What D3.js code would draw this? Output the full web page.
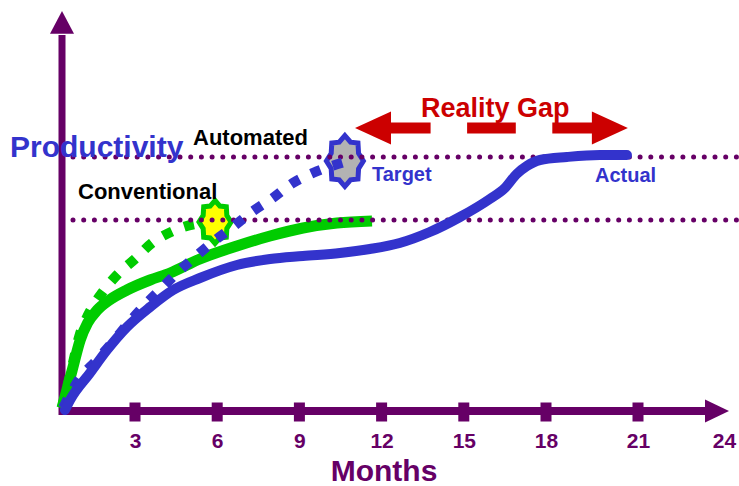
<!DOCTYPE html>
<html>
<head>
<meta charset="utf-8">
<script src="https://cdn.jsdelivr.net/npm/d3@7/dist/d3.min.js"></script>
<style>
  html, body { margin: 0; padding: 0; background: #fff; }
  svg { display: block; font-family: "Liberation Sans", Arial, sans-serif; }
</style>
</head>
<body>
<svg id="chart" width="739" height="486"></svg>
<script>
// Month tick labels along the time axis
const monthTicks = [3, 6, 9, 12, 15, 18, 21, 24];
const tickMarks = [3, 6, 9, 12, 15, 18, 21];

// Productivity levels the two approaches aim for
const automatedTarget = 63.5;
const conventionalTarget = 47.75;

// [month, productivity] curves
const conventionalActual = [
  [0, 0.75], [0.41, 10], [0.75, 17.75], [1.05, 22], [1.45, 25.25], [1.95, 27.75],
  [2.67, 30.25], [3.55, 32.75], [4.28, 34.5], [5.37, 38], [6.72, 41.25],
  [7.93, 43.75], [9.13, 45.75], [10.37, 47], [11.65, 47.5]
];
const conventionalPlan = [
  [0, 0.75], [0.45, 12], [0.7, 18.5], [1.07, 24], [1.64, 29.5], [2.26, 34],
  [3, 38], [3.62, 42], [4.39, 45], [5.19, 46.75], [5.92, 47.25]
];
const automatedPlan = [
  [0.04, 0.75], [0.74, 8.25], [1.36, 12.25], [2.05, 17], [2.67, 21.5], [3.29, 26],
  [3.91, 30.25], [4.53, 34.5], [5.19, 38.5], [5.84, 42.25], [6.57, 46],
  [7.26, 49.75], [8.03, 53.25], [8.76, 57], [9.49, 59.5], [10.66, 62.25]
];
const automatedActual = [
  [0.12, 0.25], [0.33, 2.75], [1.15, 9.5], [1.85, 15.25], [2.67, 21], [3.55, 26],
  [4.39, 30.25], [5.37, 33.25], [6.72, 36.5], [7.93, 38], [9.13, 38.75],
  [10.48, 39.5], [11.57, 40.5], [12.66, 42], [13.76, 44.75], [14.86, 48.5],
  [15.95, 53], [16.5, 55.75], [16.93, 59.25], [17.3, 61.25], [17.78, 62.75],
  [18.68, 63.5], [19.76, 64], [20.64, 64]
];

// Milestone stars: [month, productivity]
const conventionalStar = [5.92, 47.25];
const automatedStar = [10.66, 62.5];

// Span of the "Reality Gap" arrow: [startMonth, endMonth, productivity]
const gapSpan = [11.03, 20.67, 70.75];

const PURPLE = "#660066", BLUE = "#3333cc", GREEN = "#00cc00", RED = "#cc0000";

const svg = d3.select("#chart");

const x = d3.scaleLinear()
  .domain([0, 3, 18, 21, 24])
  .range([62, 135, 546, 638, 724]);
const y = d3.scaleLinear().domain([0, 100]).range([411, 11]);

const x0 = x(0), y0 = y(0);

// ---- axes ----
const axisG = svg.append("g");
// vertical axis with arrowhead
axisG.append("line")
  .attr("x1", x0).attr("x2", x0).attr("y1", y0 + 4).attr("y2", y(94))
  .attr("stroke", PURPLE).attr("stroke-width", 7);
axisG.append("path")
  .attr("d", `M${x0 - 12},${y(94.3)} L${x0},${y(100)} L${x0 + 12},${y(94.3)} Z`)
  .attr("fill", PURPLE);
// horizontal axis with arrowhead
axisG.append("line")
  .attr("x1", x0 - 1).attr("x2", 707).attr("y1", y0).attr("y2", y0)
  .attr("stroke", PURPLE).attr("stroke-width", 8);
axisG.append("path")
  .attr("d", `M705,${y0 - 11.5} L729,${y0} L705,${y0 + 11.5} Z`)
  .attr("fill", PURPLE);
// square tick marks
axisG.selectAll("rect.tick-mark").data(tickMarks).join("rect")
  .attr("class", "tick-mark")
  .attr("x", d => x(d) - 5.5).attr("y", y0 - 8.5)
  .attr("width", 11).attr("height", 19)
  .attr("fill", PURPLE);

// tick labels through the d3 axis
const xAxis = d3.axisBottom(x).tickValues(monthTicks).tickSize(0).tickPadding(22)
  .tickFormat(d3.format("d"));
const xAxisG = svg.append("g").attr("transform", `translate(0,${y0})`).call(xAxis);
xAxisG.select(".domain").remove();
xAxisG.selectAll("text")
  .attr("fill", PURPLE)
  .attr("font-size", 21).attr("font-weight", "bold")
  .attr("font-family", "'Liberation Sans', Arial, sans-serif");

svg.append("text")
  .attr("x", 384).attr("y", 481)
  .attr("text-anchor", "middle")
  .attr("font-size", 30).attr("font-weight", "bold")
  .attr("fill", PURPLE)
  .text("Months");

// ---- curves ----
const line = d3.line()
  .x(d => x(d[0])).y(d => y(d[1]))
  .curve(d3.curveMonotoneX);

svg.append("path").datum(conventionalActual)
  .attr("d", line).attr("fill", "none")
  .attr("stroke", GREEN).attr("stroke-width", 11)
  .attr("stroke-linejoin", "round");

svg.append("path").datum(conventionalPlan)
  .attr("d", line).attr("fill", "none")
  .attr("stroke", GREEN).attr("stroke-width", 10)
  .attr("stroke-dasharray", "10 13");

// 8-point star path centred on the origin
function starPath(rx, ry, ratio) {
  const pts = [];
  for (let i = 0; i < 16; i++) {
    const a = -Math.PI / 2 + i * Math.PI / 8;
    const k = i % 2 === 0 ? 1 : ratio;
    pts.push([Math.cos(a) * rx * k, Math.sin(a) * ry * k]);
  }
  return "M" + pts.map(p => p.join(",")).join("L") + "Z";
}

svg.append("path")
  .attr("transform", `translate(${x(conventionalStar[0])},${y(conventionalStar[1])})`)
  .attr("d", starPath(16, 21.5, 0.8))
  .attr("fill", "#ffff00").attr("stroke", GREEN).attr("stroke-width", 5)
  .attr("stroke-linejoin", "miter");

svg.append("path")
  .attr("transform", `translate(${x(automatedStar[0])},${y(automatedStar[1])})`)
  .attr("d", starPath(18.5, 25.5, 0.8))
  .attr("fill", "#b3b3b3").attr("stroke", BLUE).attr("stroke-width", 5)
  .attr("stroke-linejoin", "miter");

// dotted target levels
svg.selectAll("line.level").data([automatedTarget, conventionalTarget]).join("line")
  .attr("class", "level")
  .attr("x1", 73).attr("x2", 739)
  .attr("y1", d => y(d)).attr("y2", d => y(d))
  .attr("stroke", PURPLE).attr("stroke-width", 5)
  .attr("stroke-linecap", "round")
  .attr("stroke-dasharray", "0 10.7");

svg.append("path").datum(automatedPlan)
  .attr("d", line).attr("fill", "none")
  .attr("stroke", BLUE).attr("stroke-width", 10)
  .attr("stroke-dasharray", "10 13");

svg.append("path").datum(automatedActual)
  .attr("d", line).attr("fill", "none")
  .attr("stroke", BLUE).attr("stroke-width", 10)
  .attr("stroke-linecap", "round").attr("stroke-linejoin", "round");

// ---- reality gap arrow ----
const gx1 = x(gapSpan[0]), gx2 = x(gapSpan[1]), gy = y(gapSpan[2]);
const headLen = 36, headHalf = 16.5, shaft = 11;
const gapG = svg.append("g").attr("fill", RED);
gapG.append("path")
  .attr("d", `M${gx1},${gy} L${gx1 + headLen},${gy - headHalf} L${gx1 + headLen},${gy + headHalf} Z`);
gapG.append("path")
  .attr("d", `M${gx2},${gy} L${gx2 - headLen},${gy - headHalf} L${gx2 - headLen},${gy + headHalf} Z`);
// dashed shaft: three bars between the heads
const shaftStart = gx1 + headLen - 1, shaftEnd = gx2 - headLen + 1;
const shaftLen = shaftEnd - shaftStart;
const bars = [[0, 0.2], [0.38, 0.62], [0.8, 1]];
gapG.selectAll("rect").data(bars).join("rect")
  .attr("x", d => shaftStart + d[0] * shaftLen)
  .attr("width", d => (d[1] - d[0]) * shaftLen)
  .attr("y", gy - shaft / 2).attr("height", shaft);

svg.append("text")
  .attr("x", 421).attr("y", 117)
  .attr("font-size", 27).attr("font-weight", "bold")
  .attr("fill", RED)
  .text("Reality Gap");

// ---- labels ----
svg.append("text")
  .attr("x", 10).attr("y", 157)
  .attr("font-size", 30).attr("font-weight", "bold")
  .attr("fill", BLUE)
  .text("Productivity");

svg.append("text")
  .attr("x", 193).attr("y", 145)
  .attr("font-size", 22).attr("font-weight", "bold").attr("fill", "#000")
  .text("Automated");

svg.append("text")
  .attr("x", 78).attr("y", 199)
  .attr("font-size", 22).attr("font-weight", "bold").attr("fill", "#000")
  .text("Conventional");

svg.append("text")
  .attr("x", 372).attr("y", 181)
  .attr("font-size", 20).attr("font-weight", "bold").attr("fill", BLUE)
  .text("Target");

svg.append("text")
  .attr("x", 595).attr("y", 182)
  .attr("font-size", 20).attr("font-weight", "bold").attr("fill", BLUE)
  .text("Actual");
</script>
</body>
</html>
